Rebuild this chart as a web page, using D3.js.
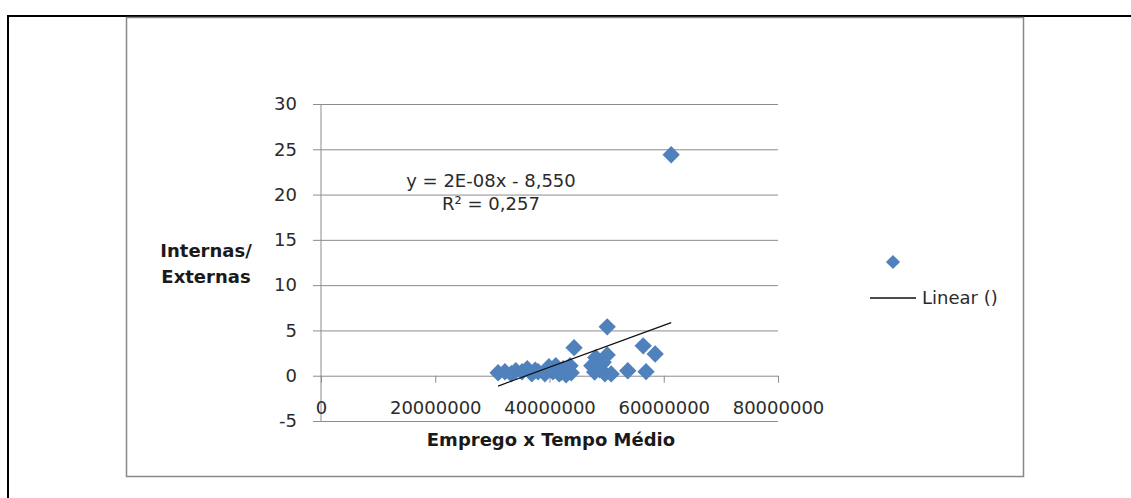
<!DOCTYPE html>
<html>
<head>
<meta charset="utf-8">
<script src="https://cdn.jsdelivr.net/npm/d3@7"></script>
<style>
  html, body { margin: 0; padding: 0; background: #fff; }
  #container { width: 1131px; height: 498px; }
</style>
</head>
<body>
<div id="container"></div>
<script>
// 数据
// 横轴：Emprego x Tempo Médio
const empregoTempo = [
  31.0e6, 32.2e6, 33.3e6, 34.1e6, 35.2e6, 36.1e6, 36.9e6, 38.0e6, 39.2e6, 39.9e6,
  40.6e6, 41.1e6, 41.7e6, 42.4e6, 42.9e6, 43.6e6, 44.3e6, 43.8e6, 47.4e6, 48.1e6,
  48.8e6, 49.4e6, 50.1e6, 49.7e6, 50.8e6, 50.1e6, 53.7e6, 56.4e6, 56.9e6, 58.5e6,
  61.3e6, 37.5e6, 40.2e6, 42.0e6, 47.9e6, 49.0e6
];
// 纵轴：Internas/Externas
const internasExternas = [
  0.33, 0.44, 0.22, 0.55, 0.44, 0.77, 0.22, 0.44, 0.22, 1.0,
  0.44, 1.1, 0.2, 0.77, 0.1, 1.1, 3.1, 0.33, 1.1, 2.0,
  0.66, 1.5, 2.3, 0.22, 0.2, 5.4, 0.55, 3.3, 0.45, 2.4,
  24.4, 0.6, 0.7, 0.35, 0.4, 1.2
];
// 趋势线参数（按图中画出的线估读）
const trendSlope = 2.31e-7;
const trendIntercept = -8.30;
// 刻度
const xTicks = [0, 20000000, 40000000, 60000000, 80000000];
const yTicks = [-5, 0, 5, 10, 15, 20, 25, 30];
// 文字
const xTitle = "Emprego x Tempo Médio";
const yTitle = ["Internas/", "Externas"];
const equationText = ["y = 2E-08x - 8,550", "R² = 0,257"];
const legendLabel = "Linear ()";

const width = 1131;
const height = 498;
const font = "'DejaVu Sans', sans-serif";
const blue = "#4f81bd";
const gray = "#8c8c8c";
const textColor = "#2b2b2b";

const svg = d3.select("#container")
  .append("svg")
  .attr("width", width)
  .attr("height", height)
  .attr("viewBox", [0, 0, width, height]);

// 外框（表格边线）
svg.append("path")
  .attr("d", "M7,16H1131M8,16V498")
  .attr("fill", "none")
  .attr("stroke", "#000")
  .attr("stroke-width", 2);

// 图表区边框
svg.append("rect")
  .attr("x", 126.5).attr("y", 17.5)
  .attr("width", 897).attr("height", 459)
  .attr("fill", "#fff")
  .attr("stroke", "#888")
  .attr("stroke-width", 1.5);

// 比例尺
const x = d3.scaleLinear().domain([0, 80000000]).range([321, 778]);
const y = d3.scaleLinear().domain([-5, 30]).range([421, 104]);

// 普通连字符的负号（和 Excel 一样）
const plain = d => String(d);

// 横向网格线 + 纵轴刻度
svg.append("g")
  .attr("transform", `translate(${x(0)},0)`)
  .call(d3.axisLeft(y).tickValues(yTicks).tickSize(8).tickPadding(16).tickFormat(plain))
  .call(g => g.select(".domain").attr("stroke", gray).attr("d", `M0,${y(30)}V${y(-5)}`))
  .call(g => g.selectAll(".tick line").attr("stroke", gray))
  .call(g => g.selectAll(".tick line").clone()
    .attr("x1", 0)
    .attr("x2", x(80000000) - x(0))
    .attr("stroke", gray))
  .call(g => g.selectAll(".tick text")
    .attr("font-family", font)
    .attr("font-size", 18)
    .attr("fill", textColor));

// 横轴：位于 y = 0，标签放在底部
svg.append("g")
  .attr("transform", `translate(0,${y(0)})`)
  .call(d3.axisBottom(x).tickValues(xTicks).tickSize(7).tickFormat(plain))
  .call(g => g.select(".domain").remove())
  .call(g => g.selectAll(".tick line").attr("stroke", gray))
  .call(g => g.selectAll(".tick text")
    .attr("y", 408 - y(0))
    .attr("dy", "0.35em")
    .attr("font-family", font)
    .attr("font-size", 18)
    .attr("fill", textColor));

// 轴标题
svg.append("text")
  .attr("x", 551)
  .attr("y", 440)
  .attr("dy", "0.35em")
  .attr("text-anchor", "middle")
  .attr("font-family", font)
  .attr("font-size", 18)
  .attr("font-weight", "bold")
  .attr("fill", "#1a1a1a")
  .text(xTitle);

svg.append("g")
  .selectAll("text")
  .data(yTitle)
  .join("text")
  .attr("x", 206)
  .attr("y", (d, i) => 251 + i * 26)
  .attr("dy", "0.35em")
  .attr("text-anchor", "middle")
  .attr("font-family", font)
  .attr("font-size", 18)
  .attr("font-weight", "bold")
  .attr("fill", "#1a1a1a")
  .text(d => d);

// 数据点（菱形）
const points = empregoTempo.map((v, i) => ({ x: v, y: internasExternas[i] }));
const diamond = d3.symbol(d3.symbolSquare, 150);
svg.append("g")
  .attr("fill", blue)
  .selectAll("path")
  .data(points)
  .join("path")
  .attr("transform", d => `translate(${x(d.x)},${y(d.y)}) rotate(45)`)
  .attr("d", diamond);

// 线性趋势线
const xExtent = d3.extent(empregoTempo);
const trend = xExtent.map(v => ({ x: v, y: trendSlope * v + trendIntercept }));
svg.append("path")
  .datum(trend)
  .attr("fill", "none")
  .attr("stroke", "#111")
  .attr("stroke-width", 1.3)
  .attr("d", d3.line().x(d => x(d.x)).y(d => y(d.y)));

// 趋势线公式
svg.append("g")
  .selectAll("text")
  .data(equationText)
  .join("text")
  .attr("x", 491)
  .attr("y", (d, i) => 181 + i * 23)
  .attr("dy", "0.35em")
  .attr("text-anchor", "middle")
  .attr("font-family", font)
  .attr("font-size", 18)
  .attr("fill", textColor)
  .text(d => d);

// 图例
const legend = svg.append("g");
legend.append("path")
  .attr("transform", "translate(893,262) rotate(45)")
  .attr("d", d3.symbol(d3.symbolSquare, 100)())
  .attr("fill", blue);
legend.append("line")
  .attr("x1", 870).attr("x2", 916)
  .attr("y1", 298).attr("y2", 298)
  .attr("stroke", "#111")
  .attr("stroke-width", 1.3);
legend.append("text")
  .attr("x", 922)
  .attr("y", 298)
  .attr("dy", "0.35em")
  .attr("font-family", font)
  .attr("font-size", 18)
  .attr("fill", textColor)
  .text(legendLabel);
</script>
</body>
</html>
